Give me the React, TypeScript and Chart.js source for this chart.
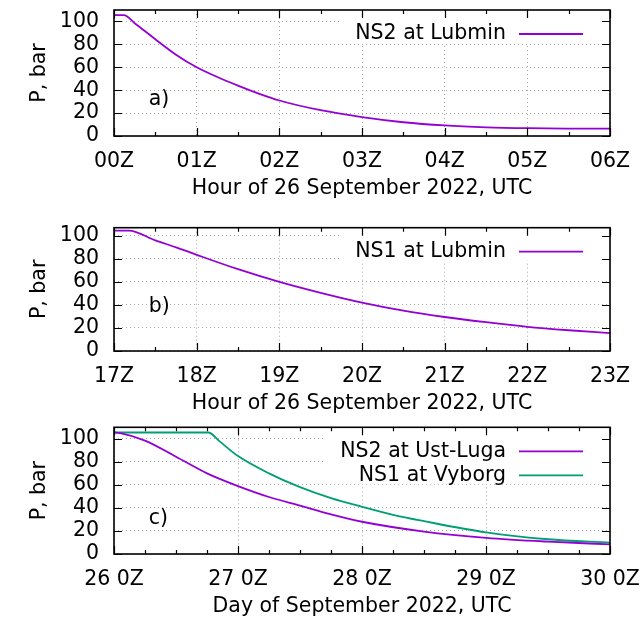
import React, { useEffect, useRef } from 'react';
import { Chart, registerables } from 'chart.js';

Chart.register(...registerables);

const FONT = '"DejaVu Sans", "Noto Sans", sans-serif';
const FS = 20.5;
const PURPLE = '#9400d3';
const GREEN = '#009e73';

// ---- Panel a: NS2 at Lubmin, hours after 00Z on 26 Sep 2022
const hoursA = [0, 0.12, 0.25, 0.5, 0.75, 1.0, 1.25, 1.5, 1.75, 2.0, 2.5, 3.0, 3.5, 4.0, 4.5, 5.0, 5.5, 6.0];
const ns2LubminP = [105.5, 105.5, 98.5, 84.5, 71, 60, 51.5, 44, 37, 31, 22.5, 16.5, 12, 9.2, 7.6, 6.8, 6.5, 6.4];
const xTicksA = ['00Z', '01Z', '02Z', '03Z', '04Z', '05Z', '06Z'];

// ---- Panel b: NS1 at Lubmin, hours after 17Z on 26 Sep 2022
const hoursB = [0, 0.18, 0.5, 0.75, 1.0, 1.5, 2.0, 2.5, 3.0, 3.5, 4.0, 4.5, 5.0, 5.5, 6.0];
const ns1LubminP = [104.5, 104.5, 96, 90, 83.5, 71, 60, 50.5, 42, 35, 29.5, 25, 21, 18, 15.5];
const xTicksB = ['17Z', '18Z', '19Z', '20Z', '21Z', '22Z', '23Z'];

// ---- Panel c: days after 26 Sep 2022 00Z
const daysUstLuga = [0, 0.05, 0.25, 0.5, 0.75, 1.0, 1.25, 1.5, 1.75, 2.0, 2.5, 3.0, 3.5, 4.0];
const ns2UstLugaP = [105.5, 105, 98.5, 84.5, 70, 59, 49.5, 42, 34.5, 28, 19.5, 14, 10.7, 8.4];
const daysVyborg = [0, 0.76, 0.85, 1.0, 1.25, 1.5, 1.75, 2.0, 2.25, 2.5, 3.0, 3.5, 4.0];
const ns1VyborgP = [105.5, 105.5, 98, 85, 70, 58, 48.5, 41, 34, 28.5, 18.8, 12.8, 9.8];
const xTicksC = ['26 0Z', '27 0Z', '28 0Z', '29 0Z', '30 0Z'];

const yTicks = [0, 20, 40, 60, 80, 100];

type Series = { label: string; color: string; xs: number[]; ys: number[] };
type Panel = {
  top: number;
  height: number;
  padTop: number;
  yMax: number;
  xTicks: string[];
  minor: number;
  xTitle: string;
  tag: string;
  tagFx: number;
  tagFy: number;
  series: Series[];
};

const panels: Panel[] = [
  {
    top: -10, height: 211, padTop: 20, yMax: 110, xTicks: xTicksA, minor: 0.5,
    xTitle: 'Hour of 26 September 2022, UTC', tag: 'a)', tagFx: 0.07, tagFy: 0.288,
    series: [{ label: 'NS2 at Lubmin', color: PURPLE, xs: hoursA, ys: ns2LubminP }],
  },
  {
    top: 200, height: 216, padTop: 27.7, yMax: 107, xTicks: xTicksB, minor: 0.5,
    xTitle: 'Hour of 26 September 2022, UTC', tag: 'b)', tagFx: 0.07, tagFy: 0.356,
    series: [{ label: 'NS1 at Lubmin', color: PURPLE, xs: hoursB, ys: ns1LubminP }],
  },
  {
    top: 415, height: 204, padTop: 12.3, yMax: 110, xTicks: xTicksC, minor: 0.25,
    xTitle: 'Day of September 2022, UTC', tag: 'c)', tagFx: 0.07, tagFy: 0.28,
    series: [
      { label: 'NS2 at Ust-Luga', color: PURPLE, xs: daysUstLuga, ys: ns2UstLugaP },
      { label: 'NS1 at Vyborg', color: GREEN, xs: daysVyborg, ys: ns1VyborgP },
    ],
  },
];

const decor = {
  id: 'decor',
  afterDatasetsDraw(chart: any, _args: any, opts: any) {
    const { ctx, chartArea: a } = chart;
    const xs = chart.scales.x;
    const ys = chart.scales.y;
    ctx.save();
    ctx.font = `${FS}px ${FONT}`;
    const dss = chart.data.datasets;
    const textRight = a.right - 104;
    let maxW = 0;
    dss.forEach((d: any) => { maxW = Math.max(maxW, ctx.measureText(d.label).width); });
    const keyLeft = textRight - maxW - 16;
    ctx.fillStyle = '#fff';
    ctx.fillRect(keyLeft, a.top + 1, a.right - 1 - keyLeft, 8 + dss.length * 24);
    dss.forEach((d: any, i: number) => {
      const cy = a.top + 24 + i * 24;
      ctx.fillStyle = '#000';
      ctx.textAlign = 'right';
      ctx.textBaseline = 'middle';
      ctx.fillText(d.label, textRight, cy);
      ctx.strokeStyle = d.borderColor;
      ctx.lineWidth = d.borderWidth;
      ctx.beginPath();
      ctx.moveTo(a.right - 91, cy);
      ctx.lineTo(a.right - 27, cy);
      ctx.stroke();
    });
    // panel tag
    ctx.fillStyle = '#000';
    ctx.textAlign = 'left';
    ctx.textBaseline = 'middle';
    ctx.fillText(opts.tag, a.left + opts.fx * (a.right - a.left), a.bottom - opts.fy * (a.bottom - a.top));
    // inward ticks (mirrored)
    ctx.strokeStyle = '#000';
    ctx.lineWidth = 1.2;
    ctx.beginPath();
    const major = 8;
    const minorLen = 4;
    xs.ticks.forEach((t: any) => {
      const p = Math.round(xs.getPixelForValue(t.value)) + 0.5;
      ctx.moveTo(p, a.bottom); ctx.lineTo(p, a.bottom - major);
      ctx.moveTo(p, a.top); ctx.lineTo(p, a.top + major);
    });
    for (let v = xs.min + opts.minor; v < xs.max - 1e-6; v += opts.minor) {
      if (Math.abs(v - Math.round(v)) < 1e-6) continue;
      const p = Math.round(xs.getPixelForValue(v)) + 0.5;
      ctx.moveTo(p, a.bottom); ctx.lineTo(p, a.bottom - minorLen);
      ctx.moveTo(p, a.top); ctx.lineTo(p, a.top + minorLen);
    }
    ys.ticks.forEach((t: any) => {
      const p = Math.round(ys.getPixelForValue(t.value)) + 0.5;
      ctx.moveTo(a.left, p); ctx.lineTo(a.left + major, p);
      ctx.moveTo(a.right, p); ctx.lineTo(a.right - major, p);
    });
    ctx.stroke();
    ctx.lineWidth = 1.6;
    ctx.strokeRect(a.left, a.top, a.right - a.left, a.bottom - a.top);
    ctx.restore();
  },
};

function PanelChart({ p }: { p: Panel }) {
  const ref = useRef<HTMLCanvasElement | null>(null);
  useEffect(() => {
    if (!ref.current) return;
    const xMax = p.xTicks.length - 1;
    const chart = new Chart(ref.current, {
      type: 'line',
      data: {
        datasets: p.series.map((s) => ({
          label: s.label,
          data: s.xs.map((x, i) => ({ x, y: s.ys[i] })),
          borderColor: s.color,
          backgroundColor: s.color,
          borderWidth: 1.8,
          pointRadius: 0,
          fill: false,
          cubicInterpolationMode: 'monotone' as const,
        })),
      },
      options: {
        responsive: false,
        animation: false,
        events: [],
        layout: { padding: { top: p.padTop, left: 0, right: 33, bottom: 0 } },
        plugins: {
          legend: { display: false },
          tooltip: { enabled: false },
          decor: { tag: p.tag, fx: p.tagFx, fy: p.tagFy, minor: p.minor },
        } as any,
        scales: {
          x: {
            type: 'linear',
            min: 0,
            max: xMax,
            afterBuildTicks: (scale: any) => {
              scale.ticks = p.xTicks.map((_, i) => ({ value: i }));
            },
            afterFit: (scale: any) => {
              scale.height = 65;
              scale.paddingLeft = 0;
              scale.paddingRight = 0;
              scale.paddingTop = 0;
              scale.paddingBottom = 0;
            },
            ticks: {
              padding: 13.6,
              maxRotation: 0,
              autoSkip: false,
              color: '#000',
              font: { family: FONT, size: FS },
              callback: (_v: any, i: number) => p.xTicks[i],
            },
            grid: { color: '#a8a8a8', lineWidth: 1, drawTicks: false },
            border: { display: false, dash: [1, 3] },
            title: {
              display: true,
              text: p.xTitle,
              color: '#000',
              font: { family: FONT, size: FS },
              padding: { top: 0, bottom: 0.3 },
            },
          },
          y: {
            type: 'linear',
            min: 0,
            max: p.yMax,
            afterBuildTicks: (scale: any) => {
              scale.ticks = yTicks.map((v) => ({ value: v }));
            },
            afterFit: (scale: any) => {
              scale.width = 114;
              scale.paddingLeft = 0;
              scale.paddingRight = 0;
              scale.paddingTop = 0;
              scale.paddingBottom = 0;
            },
            ticks: {
              padding: 15,
              autoSkip: false,
              color: '#000',
              font: { family: FONT, size: FS },
              callback: (v: any) => String(v),
            },
            grid: { color: '#a8a8a8', lineWidth: 1, drawTicks: false },
            border: { display: false, dash: [1, 3] },
            title: {
              display: true,
              text: 'P, bar',
              color: '#000',
              font: { family: FONT, size: FS },
              padding: { top: 27, bottom: 0 },
            },
          },
        },
      } as any,
      plugins: [decor],
    });
    return () => chart.destroy();
  }, [p]);
  return (
    <canvas
      ref={ref}
      width={643}
      height={p.height}
      style={{ position: 'absolute', left: 0, top: p.top, display: 'block' }}
    />
  );
}

export default function App() {
  return (
    <div style={{ position: 'absolute', left: 0, top: 0, width: 643, height: 618, background: '#fff', overflow: 'hidden' }}>
      {panels.map((p, i) => (
        <PanelChart key={i} p={p} />
      ))}
    </div>
  );
}
